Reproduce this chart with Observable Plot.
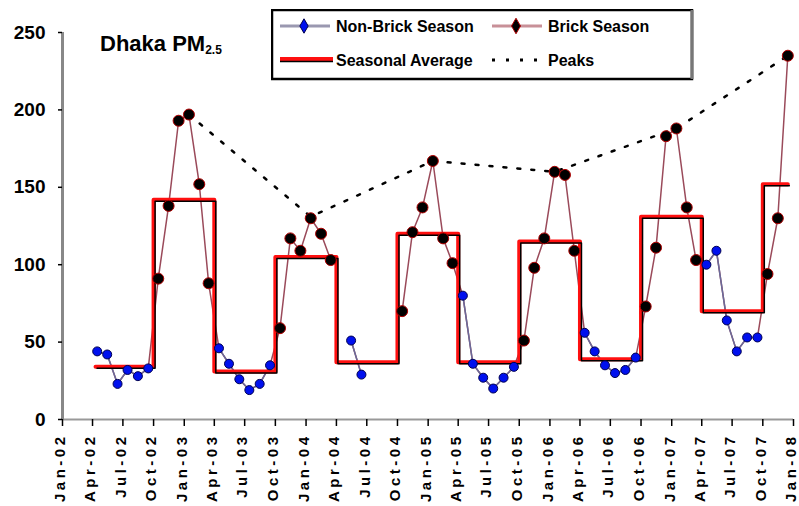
<!DOCTYPE html>
<html><head><meta charset="utf-8">
<script src="https://cdn.jsdelivr.net/npm/d3@7"></script>
<script src="https://cdn.jsdelivr.net/npm/@observablehq/plot@0.6"></script>
<style>
body{margin:0;background:#fff;font-family:"Liberation Sans",Arial,sans-serif;}
#wrap{position:relative;width:799px;height:506px;overflow:hidden;}
#title{position:absolute;left:100px;top:33px;font-weight:bold;font-size:22px;line-height:22px;white-space:nowrap;}
#title sub{font-size:12px;vertical-align:-3px;}
#legend{position:absolute;left:271px;top:9px;}
#chart g[aria-label="x-axis tick label"] text{letter-spacing:3.5px;}
</style></head>
<body>
<div id="wrap"><div id="chart"></div><div id="title">Dhaka PM<sub>2.5</sub></div><div id="legend"></div></div>
<script>
const monthLabels = [
 "Apr-02","May-02","Jun-02","Jul-02","Aug-02","Sep-02","Oct-02","Nov-02","Dec-02",
 "Jan-03","Feb-03","Mar-03","Apr-03","May-03","Jun-03","Jul-03","Aug-03","Sep-03","Oct-03","Nov-03","Dec-03",
 "Jan-04","Feb-04","Mar-04","Apr-04","May-04","Jun-04","Jul-04","Aug-04","Sep-04","Oct-04","Nov-04","Dec-04",
 "Jan-05","Feb-05","Mar-05","Apr-05","May-05","Jun-05","Jul-05","Aug-05","Sep-05","Oct-05","Nov-05","Dec-05",
 "Jan-06","Feb-06","Mar-06","Apr-06","May-06","Jun-06","Jul-06","Aug-06","Sep-06","Oct-06","Nov-06","Dec-06",
 "Jan-07","Feb-07","Mar-07","Apr-07","May-07","Jun-07","Jul-07","Aug-07","Sep-07","Oct-07","Nov-07","Dec-07"];
const pm25 = [
 44,42,23,32,28,33, 91,138,193,
 197,152,88, 46,36,26,19,23,35, 59,117,109,
 130,120,103, null,51,29,null,null,null, 70,121,137,
 167,117,101, 80,36,27,20,27,34, 51,98,117,
 160,158,109, 56,44,35,30,32,40, 73,111,183,
 188,137,103, 100,109,64,44,53,53, 94,130,235];
const brickSeasonMonths = ["Oct","Nov","Dec","Jan","Feb","Mar"];
const seasonStart = ["2002-04-10","2002-10-01","2003-04-01","2003-10-01","2004-04-01","2004-10-01",
 "2005-04-01","2005-10-01","2006-04-01","2006-10-01","2007-04-01","2007-10-01"];
const seasonEnd = "2007-12-15";
const seasonAvg = [34,142,31,105,37,120,37,115,39,131,70,152];
const peakMonths = ["Jan-03","Jan-04","Jan-05","Jan-06","Jan-07","Dec-07"];
const peakValues = [197,131,167,160,188,235];
const tickLabels = ["Jan-02","Apr-02","Jul-02","Oct-02","Jan-03","Apr-03","Jul-03","Oct-03",
 "Jan-04","Apr-04","Jul-04","Oct-04","Jan-05","Apr-05","Jul-05","Oct-05","Jan-06","Apr-06","Jul-06","Oct-06",
 "Jan-07","Apr-07","Jul-07","Oct-07","Jan-08"];
const yTicks = [0,50,100,150,200,250];

const parseMonth = d3.utcParse("%b-%y");
const mid = s => d3.utcDay.offset(parseMonth(s), 14);
const rows = monthLabels.map((m,i)=>({date: mid(m), value: pm25[i], brick: brickSeasonMonths.includes(m.slice(0,3))}));
const seasons = seasonStart.map((s,i)=>({date:new Date(s), v:seasonAvg[i]}));
seasons.push({date:new Date(seasonEnd), v:seasonAvg[seasonAvg.length-1]});
const peaks = peakMonths.map((m,i)=>({date: mid(m), v: peakValues[i]}));
const ticks = tickLabels.map(parseMonth);

const xDomain = [parseMonth("Jan-02"), parseMonth("Jan-08")];

const chart = Plot.plot({
  width: 799, height: 506,
  marginLeft: 62, marginRight: 6, marginTop: 32, marginBottom: 87,
  style: {fontFamily: "'Liberation Sans', Arial, sans-serif", fontWeight: "bold", background: "#fff"},
  x: {type: "utc", domain: xDomain},
  y: {domain: [0, 250]},
  marks: [
    Plot.ruleY([0], {stroke: "#999", strokeWidth: 2}),
    Plot.ruleX([xDomain[0]], {y1: 0, y2: 250, stroke: "#888", strokeWidth: 3}),
    Plot.axisY({ticks: yTicks, tickSize: 4, tickPadding: 13, fontSize: 19, fontWeight: "bold", stroke: "#000", strokeWidth: 1.5, label: null}),
    Plot.axisX({ticks: ticks, tickFormat: () => "", tickSize: 7, strokeWidth: 1.5, label: null}),
    Plot.axisX({ticks: ticks, tickFormat: d3.utcFormat("%b-%y"), tickRotate: -90, tickSize: 0, tickPadding: 14, dx: -2,
      fontSize: 15, fontWeight: "bold", label: null}),
    Plot.line(rows, {x: "date", y: "value", stroke: "#9a4a5a", strokeWidth: 1.5}),
    Plot.line(rows, {x: "date", y: d => d.brick ? null : d.value, stroke: "#6a6a9a", strokeWidth: 1.5}),
    Plot.line(seasons, {x: "date", y: "v", curve: "step-after", stroke: "#ff1010", strokeWidth: 4}),
    Plot.line(seasons, {x: "date", y: "v", curve: "step-after", stroke: "#000", strokeWidth: 1.5, dx: 1.5, dy: 1.5}),
    Plot.line(peaks, {x: "date", y: "v", stroke: "#000", strokeWidth: 2.5, strokeDasharray: "3,11"}),
    Plot.dot(rows.filter(d => !d.brick && d.value != null), {x: "date", y: "value", r: 4.5, fill: "#0010ee", stroke: "#000050", strokeWidth: 1}),
    Plot.dot(rows.filter(d => d.brick && d.value != null), {x: "date", y: "value", r: 5.5, fill: "#000", stroke: "#b00000", strokeWidth: 1})
  ]
});
document.getElementById("chart").append(chart);

const lg = d3.select("#legend").append("svg").attr("width", 424).attr("height", 72)
  .style("font-family", "'Liberation Sans', Arial, sans-serif").style("font-weight", "bold");
lg.append("rect").attr("x", 1).attr("y", 1).attr("width", 420).attr("height", 69).attr("fill", "#fff").attr("stroke", "#000").attr("stroke-width", 2.5);
lg.append("line").attr("x1", 421).attr("x2", 421).attr("y1", 1).attr("y2", 70).attr("stroke", "#777").attr("stroke-width", 3);
const items = [
  {x: 9, y: 17, label: "Non-Brick Season", type: "nb"},
  {x: 221, y: 17, label: "Brick Season", type: "b"},
  {x: 9, y: 51, label: "Seasonal Average", type: "avg"},
  {x: 221, y: 51, label: "Peaks", type: "peak"}
];
for (const it of items) {
  const g = lg.append("g");
  if (it.type === "nb") {
    g.append("line").attr("x1", it.x).attr("x2", it.x + 50).attr("y1", it.y).attr("y2", it.y).attr("stroke", "#9a98b0").attr("stroke-width", 3);
    g.append("path").attr("d", d3.symbol(d3.symbolDiamond, 60)()).attr("transform", `translate(${it.x + 24},${it.y})`).attr("fill", "#0010ee").attr("stroke", "#000050");
  } else if (it.type === "b") {
    g.append("line").attr("x1", it.x).attr("x2", it.x + 50).attr("y1", it.y).attr("y2", it.y).attr("stroke", "#c89098").attr("stroke-width", 3);
    g.append("path").attr("d", d3.symbol(d3.symbolDiamond, 70)()).attr("transform", `translate(${it.x + 24},${it.y})`).attr("fill", "#000").attr("stroke", "#b00000");
  } else if (it.type === "avg") {
    g.append("line").attr("x1", it.x).attr("x2", it.x + 53).attr("y1", it.y - 1).attr("y2", it.y - 1).attr("stroke", "#ff1010").attr("stroke-width", 4);
    g.append("line").attr("x1", it.x).attr("x2", it.x + 53).attr("y1", it.y + 1.5).attr("y2", it.y + 1.5).attr("stroke", "#000").attr("stroke-width", 1.5);
  } else {
    g.append("line").attr("x1", it.x).attr("x2", it.x + 50).attr("y1", it.y).attr("y2", it.y).attr("stroke", "#000").attr("stroke-width", 3).attr("stroke-dasharray", "3,11");
  }
  g.append("text").attr("x", it.x + 56).attr("y", it.y + 6).attr("font-size", 16).text(it.label);
}
</script>
</body></html>
